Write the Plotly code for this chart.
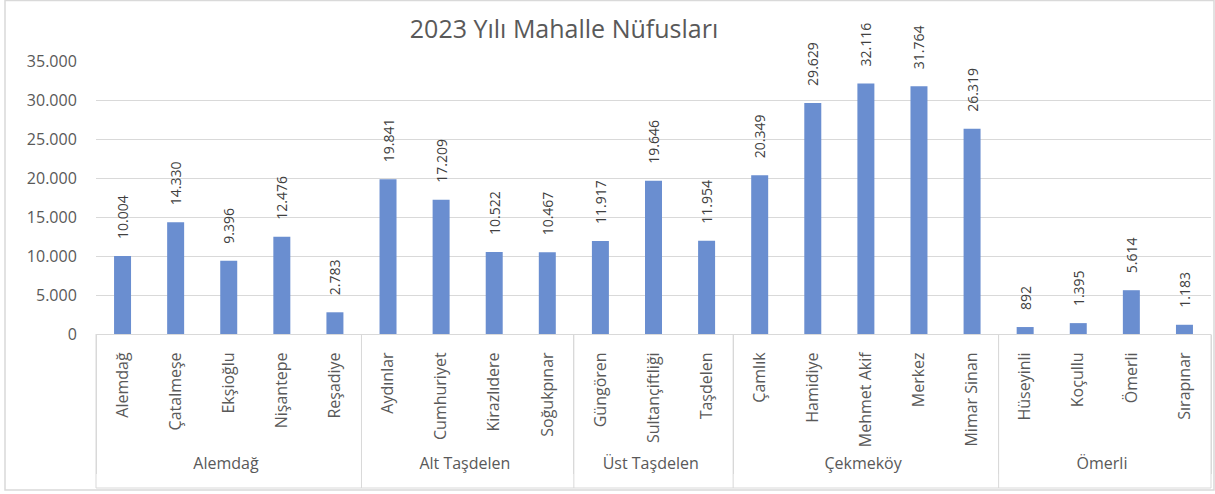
import plotly.graph_objects as go

groups = ["Alemdağ"] * 5 + ["Alt Taşdelen"] * 4 + ["Üst Taşdelen"] * 3 + ["Çekmeköy"] * 5 + ["Ömerli"] * 4
neighbourhoods = [
    "Alemdağ", "Çatalmeşe", "Ekşioğlu", "Nişantepe", "Reşadiye",
    "Aydınlar", "Cumhuriyet", "Kirazlıdere", "Soğukpınar",
    "Güngören", "Sultançiftliği", "Taşdelen",
    "Çamlık", "Hamidiye", "Mehmet Akif", "Merkez", "Mimar Sinan",
    "Hüseyinli", "Koçullu", "Ömerli", "Sırapınar",
]
population = [
    10004, 14330, 9396, 12476, 2783,
    19841, 17209, 10522, 10467,
    11917, 19646, 11954,
    20349, 29629, 32116, 31764, 26319,
    892, 1395, 5614, 1183,
]
y_ticks = [0, 5000, 10000, 15000, 20000, 25000, 30000, 35000]

FONT = "Open Sans"
W, H = 1215, 494
L, R, T, B = 96, 1211, 61, 334
pw, ph = R - L, B - T
GRID = "#D9D9D9"

fig = go.Figure(go.Bar(
    x=[groups, neighbourhoods],
    y=population,
    marker=dict(color="#6A8ED0", line=dict(width=0)),
    text=population,
    texttemplate="\u2003%{y:,d}",
    textposition="outside",
    textangle=-90,
    constraintext="none",
    cliponaxis=False,
    textfont=dict(family=FONT, size=14, color="#404040"),
    hoverinfo="x+y",
))

fig.update_layout(
    width=W, height=H,
    separators=",.",
    margin=dict(l=L, r=W - R, t=T, b=H - B, pad=0),
    paper_bgcolor="white",
    plot_bgcolor="white",
    bargap=0.68,
    showlegend=False,
    title=dict(
        text="2023 Yılı Mahalle Nüfusları",
        font=dict(family=FONT, size=25, color="#595959"),
        x=564 / W, xanchor="center", xref="container",
        y=1 - 29 / H, yanchor="middle", yref="container",
    ),
    font=dict(family=FONT, size=15, color="#595959"),
)

fig.update_xaxes(
    type="multicategory",
    automargin=False,
    tickangle=-90,
    ticklabelstandoff=11,
    tickfont=dict(family=FONT, size=16, color="#595959"),
    showline=True, linecolor=GRID, linewidth=1,
    showdividers=True, dividercolor=GRID, dividerwidth=1,
    ticks="", showgrid=False,
)
fig.update_yaxes(
    automargin=False,
    range=[0, 35000],
    tickvals=y_ticks,
    tickformat=",d",
    tickfont=dict(family=FONT, size=16, color="#595959"),
    showgrid=True, gridcolor=GRID, gridwidth=1,
    zeroline=False, showline=False,
    ticks="outside", ticklen=15, tickcolor="rgba(0,0,0,0)",
)

# category-area box: edges plus group separators carried down to the box bottom
yb = (B - 488) / ph
n = len(groups)
edges = [0] + [i for i in range(1, n) if groups[i] != groups[i - 1]] + [n]
for e in edges:
    fig.add_shape(type="line", xref="paper", yref="paper",
                  x0=e / n, x1=e / n, y0=yb, y1=0,
                  line=dict(color=GRID, width=1))
fig.add_shape(type="line", xref="paper", yref="paper",
              x0=0, x1=1, y0=yb, y1=yb,
              line=dict(color=GRID, width=1))
# chart border
fig.add_shape(type="rect", xref="paper", yref="paper",
              x0=(5 - L) / pw, x1=(1214 - L) / pw,
              y0=(B - 490) / ph, y1=(B - 0.5) / ph,
              line=dict(color=GRID, width=1.5))

# the page's default body margin would shift the figure by 8 px
fig.write_html("out.html", config={"displayModeBar": False},
               post_script="document.body.style.margin='0';")
